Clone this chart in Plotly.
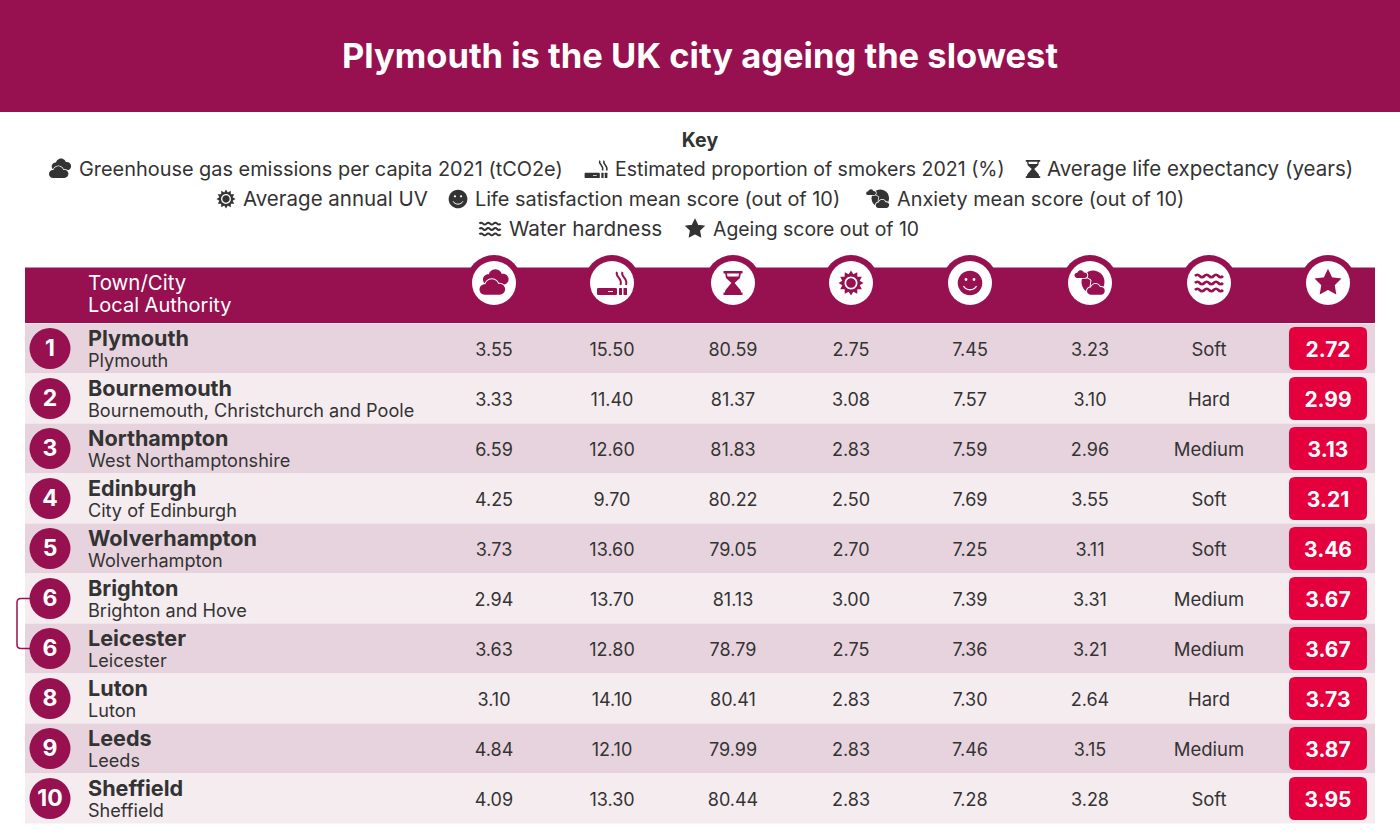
import math
import plotly.graph_objects as go

# ---------- data ----------
TITLE = "Plymouth is the UK city ageing the slowest"
ranks = [1, 2, 3, 4, 5, 6, 6, 8, 9, 10]
towns = ["Plymouth", "Bournemouth", "Northampton", "Edinburgh", "Wolverhampton",
         "Brighton", "Leicester", "Luton", "Leeds", "Sheffield"]
authorities = ["Plymouth", "Bournemouth, Christchurch and Poole", "West Northamptonshire",
               "City of Edinburgh", "Wolverhampton", "Brighton and Hove", "Leicester",
               "Luton", "Leeds", "Sheffield"]
emissions = [3.55, 3.33, 6.59, 4.25, 3.73, 2.94, 3.63, 3.10, 4.84, 4.09]
smokers = [15.50, 11.40, 12.60, 9.70, 13.60, 13.70, 12.80, 14.10, 12.10, 13.30]
life_exp = [80.59, 81.37, 81.83, 80.22, 79.05, 81.13, 78.79, 80.41, 79.99, 80.44]
uv = [2.75, 3.08, 2.83, 2.50, 2.70, 3.00, 2.75, 2.83, 2.83, 2.83]
satisfaction = [7.45, 7.57, 7.59, 7.69, 7.25, 7.39, 7.36, 7.30, 7.46, 7.28]
anxiety = [3.23, 3.10, 2.96, 3.55, 3.11, 3.31, 3.21, 2.64, 3.15, 3.28]
water = ["Soft", "Hard", "Medium", "Soft", "Soft", "Medium", "Medium", "Hard", "Medium", "Soft"]
scores = [2.72, 2.99, 3.13, 3.21, 3.46, 3.67, 3.67, 3.73, 3.87, 3.95]
key_labels = ["Greenhouse gas emissions per capita 2021 (tCO2e)",
              "Estimated proportion of smokers 2021 (%)",
              "Average life expectancy (years)", "Average annual UV",
              "Life satisfaction mean score (out of 10)", "Anxiety mean score (out of 10)",
              "Water hardness", "Ageing score out of 10"]
key_icons = ["cloud", "cig", "glass", "sun", "smile", "anx", "wave", "star"]
head_icons = ["cloud", "cig", "glass", "sun", "smile", "anx", "wave", "star"]

# ---------- layout constants ----------
MAROON, ROW_A, ROW_B = "#97104F", "#E7D3DD", "#F5ECF0"
RED, INK = "#E4003C", "#333333"
FONT = "Inter"
TEXT_DY = 2
key_x = [79, 615, 1047, 243, 475, 897, 509, 713]
key_size = [19.9, 19.55, 20.5, 20.5, 19.9, 19.85, 20.7, 19.4]
key_icon_x = [60, 596, 1033, 226, 458, 878, 490, 695]
key_y = [169, 169, 169, 199, 199, 199, 229, 229]
col_x = [494, 612, 733, 851, 970, 1090, 1209, 1328]
row_top = [323.5 + 50 * i for i in range(len(ranks))]
row_mid = [t + 25 for t in row_top]
HEAD_Y = 283

shapes = []


def shape(path, fill=None, line=None, width=0, layer="above"):
    shapes.append(dict(type="path", path=path, fillcolor=fill or "rgba(0,0,0,0)",
                       line=dict(color=line or "rgba(0,0,0,0)", width=width),
                       layer=layer, fillrule="nonzero", xref="x", yref="y"))


def rect(x0, y0, x1, y1, fill, layer="below"):
    shapes.append(dict(type="rect", x0=x0, x1=x1, y0=y0, y1=y1, fillcolor=fill,
                       line=dict(width=0), layer=layer, xref="x", yref="y"))


def disc(cx, cy, r):
    k = 0.5523 * r
    return (f"M{cx - r},{cy} C{cx - r},{cy - k} {cx - k},{cy - r} {cx},{cy - r} "
            f"C{cx + k},{cy - r} {cx + r},{cy - k} {cx + r},{cy} "
            f"C{cx + r},{cy + k} {cx + k},{cy + r} {cx},{cy + r} "
            f"C{cx - k},{cy + r} {cx - r},{cy + k} {cx - r},{cy} Z")


def poly(pts):
    return "M" + " L".join(f"{x},{y}" for x, y in pts) + " Z"


def rrect(x0, y0, x1, y1, r):
    return (f"M{x0 + r},{y0} L{x1 - r},{y0} Q{x1},{y0} {x1},{y0 + r} L{x1},{y1 - r} "
            f"Q{x1},{y1} {x1 - r},{y1} L{x0 + r},{y1} Q{x0},{y1} {x0},{y1 - r} "
            f"L{x0},{y0 + r} Q{x0},{y0} {x0 + r},{y0} Z")


def cloud(cx, cy, w, fill, gap):
    """three-bump cloud with a flat base; a white halo separates it from what is behind"""
    path = " ".join([disc(cx - .6 * w, cy + .12 * w, .4 * w),
                     disc(cx - .05 * w, cy - .15 * w, .52 * w),
                     disc(cx + .55 * w, cy + .1 * w, .42 * w),
                     rrect(cx - .6 * w, cy + .1 * w, cx + .55 * w, cy + .52 * w, .01)])
    if gap:
        shape(path, "white", "white", gap)
    shape(path, fill)


def draw_icon(name, cx, cy, s, col):
    """name at centre cx,cy; s is the scale; col the fill colour; details are white."""
    P = lambda x, y: (cx + x * s, cy + y * s)
    pa = lambda pts: poly([P(*p) for p in pts])
    if name == "cloud":
        cloud(cx + 2 * s, cy - 5 * s, 13 * s, col, 0)
        cloud(cx - 1.5 * s, cy + 5 * s, 13 * s, col, 2 * s)
    elif name == "cig":
        shape(rrect(*P(-15, 5), *P(5, 12), 1.2 * s), col)
        shape(rrect(*P(-4, 8), *P(1, 9), 0.1), "white")
        shape(rrect(*P(7, 5), *P(10, 12), 0.5 * s), col)
        shape(rrect(*P(11.5, 5), *P(15, 12), 0.5 * s), col)
        for dx in (0, 5.5):
            a, b, c, d = P(5 + dx, -11), P(2.5 + dx, -6), P(11 + dx, -5), P(8.5 + dx, 2)
            shape(f"M{a[0]},{a[1]} C{b[0]},{b[1]} {c[0]},{c[1]} {d[0]},{d[1]}", None, col, 2 * s)
    elif name == "glass":
        shape(pa([(-9.5, -12), (9.5, -12), (9.5, -9.5), (7.8, -9.5), (7, -5), (1.6, 0), (7.5, 7),
                  (8.2, 9.5), (9.5, 9.5), (9.5, 12), (-9.5, 12), (-9.5, 9.5), (-8.2, 9.5),
                  (-7.5, 7), (-1.6, 0), (-7, -5), (-7.8, -9.5), (-9.5, -9.5)]), col)
        shape(pa([(-6, -9.5), (6, -9.5), (5.5, -6.5), (-5.5, -6.5)]), "white")
    elif name == "sun":
        pts = []
        for i in range(24):
            r = 12.5 if i % 2 == 0 else 9
            t = math.pi * i / 12 - math.pi / 2
            pts.append((r * math.cos(t), r * math.sin(t)))
        shape(pa(pts), col)
        shape(disc(cx, cy, 6.5 * s), "white")
        shape(disc(cx, cy, 4.8 * s), col)
    elif name == "smile":
        shape(disc(cx, cy, 12.3 * s), col)
        shape(disc(*P(-4, -3.5), 1.4 * s), "white")
        shape(disc(*P(4, -3.5), 1.4 * s), "white")
        a, b, c, d = P(-6.5, 3), P(-4, 8), P(4, 8), P(6.5, 3)
        shape(f"M{a[0]},{a[1]} C{b[0]},{b[1]} {c[0]},{c[1]} {d[0]},{d[1]}", None, "white", 1.3 * s)
    elif name == "anx":
        shape(disc(*P(3, -1), 11.5 * s), col)
        a, b, c = P(-6, -7), P(1, -3), P(0, 4)
        shape(f"M{a[0]},{a[1]} L{b[0]},{b[1]} L{c[0]},{c[1]}", None, "white", 1 * s)
        cloud(cx - 9 * s, cy - 8.5 * s, 6.5 * s, col, 1.8 * s)
        cloud(cx + 6 * s, cy + 7 * s, 9 * s, col, 2 * s)
    elif name == "wave":
        for dy in (-7, 0, 7):
            p = ""
            for j in range(6):
                x0 = -14 + 28 / 6 * j
                up = -1.6 if j % 2 == 0 else 1.6
                c1 = P(x0 + 1.5, dy + up)
                c2 = P(x0 + 3.2, dy + up)
                e = P(x0 + 28 / 6, dy)
                if j == 0:
                    st = P(x0, dy)
                    p = f"M{st[0]},{st[1]}"
                p += f" C{c1[0]},{c1[1]} {c2[0]},{c2[1]} {e[0]},{e[1]}"
            shape(p, None, col, 2.6 * s)
    elif name == "star":
        pts = []
        for i in range(10):
            r = 12.5 if i % 2 == 0 else 6.2
            t = math.pi * i / 5 - math.pi / 2
            pts.append((r * math.cos(t), r * math.sin(t)))
        shape(pa(pts), col, col, 1.5 * s)


# ---------- background shapes ----------
rect(0, 0, 1400, 112, MAROON)
rect(25, 267.5, 1375, 323, MAROON)
for i, t in enumerate(row_top):
    rect(25, t, 1375, t + 50, ROW_A if i % 2 == 0 else ROW_B)
    shape(rrect(1289, t + 3.5, 1367, t + 46.5, 6), RED, layer="below")

# bracket joining the tied ranks
tied = [i for i, r in enumerate(ranks) if ranks.count(r) > 1]
y0, y1 = row_mid[tied[0]], row_mid[tied[-1]]
shape(f"M32,{y0} L21,{y0} Q17,{y0} 17,{y0 + 4} L17,{y1 - 4} Q17,{y1} 21,{y1} L32,{y1}",
      None, MAROON, 1.5, layer="below")

for x, name in zip(col_x, head_icons):
    draw_icon(name, x, HEAD_Y, 1.0, MAROON)
for x, y, name in zip(key_icon_x, key_y, key_icons):
    draw_icon(name, x, y, 0.76, INK)

fig = go.Figure()


def text(xs, ys, labels, size, color, weight=400, pos="middle center"):
    fig.add_trace(go.Scatter(x=xs, y=[y + TEXT_DY for y in ys], text=labels, mode="text", textposition=pos,
                             textfont=dict(family=FONT, size=size, color=color, weight=weight),
                             cliponaxis=False, hoverinfo="skip", showlegend=False))


# header caps and white icon circles, rank circles
fig.add_trace(go.Scatter(x=col_x, y=[HEAD_Y] * 8, mode="markers", hoverinfo="skip", showlegend=False,
                         marker=dict(size=56, color=MAROON, line=dict(width=0))))
fig.add_trace(go.Scatter(x=col_x, y=[HEAD_Y] * 8, mode="markers", hoverinfo="skip", showlegend=False,
                         marker=dict(size=44, color="white", line=dict(width=0))))
fig.add_trace(go.Scatter(x=[50] * len(ranks), y=row_mid, mode="markers", hoverinfo="skip", showlegend=False,
                         marker=dict(size=41, color=MAROON, line=dict(width=0))))

text([700], [57], [TITLE], 34.5, "white", 700)
text([700], [140], ["Key"], 19.5, INK, 700)
text(key_x, key_y, key_labels, key_size, INK, 400, "middle right")
# two-line cells are one text each: line gap = 1.3 x the base size
text([88], [295], ['<span style="font-size:20.5px">Town/City</span><br>'
                   '<span style="font-size:20px">Local Authority</span>'], 16.9, "white", 400, "middle right")
name_cells = [f'<span style="font-size:21.6px"><b>{t}</b></span><br>'
              f'<span style="font-size:18.1px">{a}</span>' for t, a in zip(towns, authorities)]
text([88] * len(towns), [t + 26.5 for t in row_top], name_cells, 16.2, INK, 400, "middle right")
text([50] * len(ranks), row_mid, [str(r) for r in ranks], 23, "white", 700)
numeric = [emissions, smokers, life_exp, uv, satisfaction, anxiety]
for x, values in zip(col_x, numeric):
    text([x] * len(values), [m + 1 for m in row_mid], [f"{v:.2f}" for v in values], 18, INK)
text([col_x[6]] * len(water), [m + 1 for m in row_mid], water, 18.5, INK)
text([col_x[7]] * len(scores), [m + 1 for m in row_mid], [f"{v:.2f}" for v in scores], 21, "white", 700)

fig.update_layout(width=1400, height=840, margin=dict(l=0, r=0, t=0, b=0),
                  paper_bgcolor="white", plot_bgcolor="white", shapes=shapes,
                  showlegend=False,
                  xaxis=dict(range=[0, 1400], visible=False, fixedrange=True),
                  yaxis=dict(range=[840, 0], visible=False, fixedrange=True))
fig.write_html("out.html", config={"displayModeBar": False},
               post_script="document.body.style.margin='0';")
